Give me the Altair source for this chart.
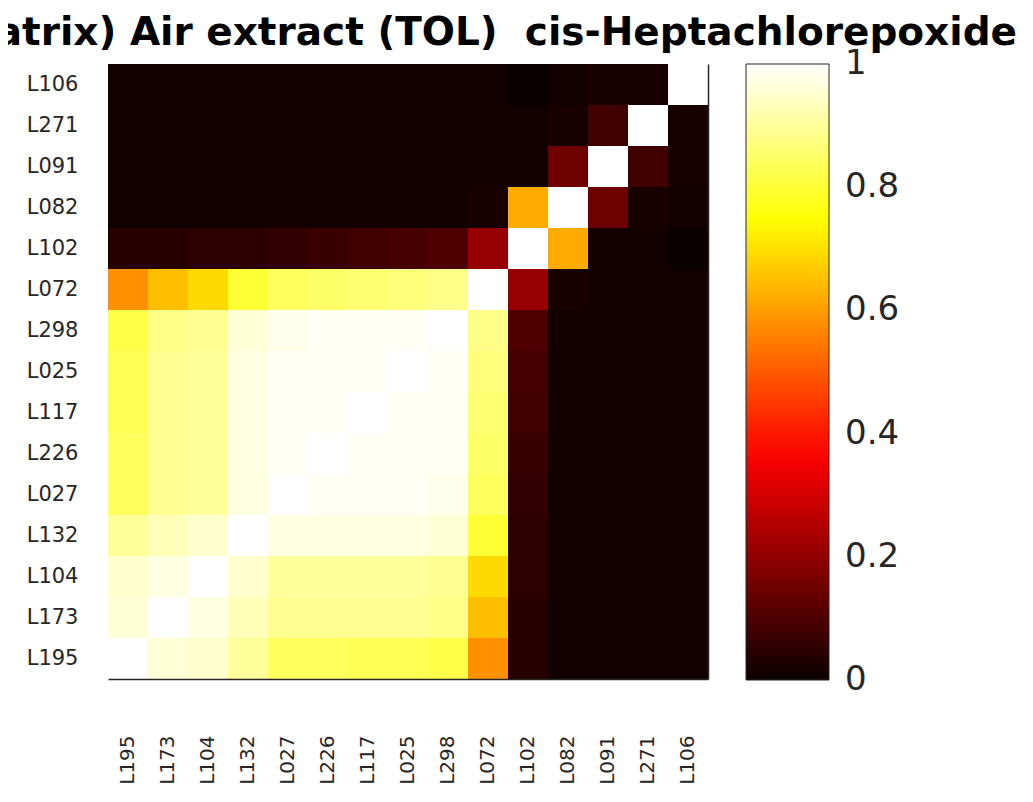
import altair as alt
import pandas as pd

# Sample labels (column order left->right; rows are shown bottom->top in this order)
labels = ["L195", "L173", "L104", "L132", "L027", "L226", "L117", "L025",
          "L298", "L072", "L102", "L082", "L091", "L271", "L106"]

# Correlation values, one list per row sample, values in the column order above
row_L195 = [1.00, 0.96, 0.95, 0.90, 0.84, 0.84, 0.83, 0.83, 0.82, 0.58, 0.04, 0.01, 0.01, 0.01, 0.01]
row_L173 = [0.96, 1.00, 0.97, 0.93, 0.89, 0.89, 0.89, 0.89, 0.88, 0.65, 0.04, 0.01, 0.01, 0.01, 0.01]
row_L104 = [0.95, 0.97, 1.00, 0.95, 0.90, 0.90, 0.90, 0.90, 0.89, 0.69, 0.05, 0.01, 0.01, 0.01, 0.01]
row_L132 = [0.90, 0.93, 0.95, 1.00, 0.97, 0.97, 0.97, 0.97, 0.96, 0.80, 0.05, 0.01, 0.01, 0.01, 0.01]
row_L027 = [0.84, 0.89, 0.90, 0.97, 1.00, 0.99, 0.99, 0.99, 0.98, 0.84, 0.06, 0.01, 0.01, 0.01, 0.01]
row_L226 = [0.84, 0.89, 0.90, 0.97, 0.99, 1.00, 0.99, 0.99, 0.99, 0.85, 0.07, 0.01, 0.01, 0.01, 0.01]
row_L117 = [0.83, 0.89, 0.90, 0.97, 0.99, 0.99, 1.00, 0.99, 0.99, 0.86, 0.08, 0.01, 0.01, 0.01, 0.01]
row_L025 = [0.83, 0.89, 0.90, 0.97, 0.99, 0.99, 0.99, 1.00, 0.99, 0.87, 0.09, 0.01, 0.01, 0.01, 0.01]
row_L298 = [0.82, 0.88, 0.89, 0.96, 0.98, 0.99, 0.99, 0.99, 1.00, 0.88, 0.10, 0.01, 0.01, 0.01, 0.01]
row_L072 = [0.58, 0.65, 0.69, 0.80, 0.84, 0.85, 0.86, 0.87, 0.88, 1.00, 0.21, 0.02, 0.01, 0.01, 0.01]
row_L102 = [0.04, 0.04, 0.05, 0.05, 0.06, 0.07, 0.08, 0.09, 0.10, 0.21, 1.00, 0.62, 0.01, 0.01, 0.00]
row_L082 = [0.01, 0.01, 0.01, 0.01, 0.01, 0.01, 0.01, 0.01, 0.01, 0.02, 0.62, 1.00, 0.15, 0.02, 0.01]
row_L091 = [0.01, 0.01, 0.01, 0.01, 0.01, 0.01, 0.01, 0.01, 0.01, 0.01, 0.01, 0.15, 1.00, 0.08, 0.02]
row_L271 = [0.01, 0.01, 0.01, 0.01, 0.01, 0.01, 0.01, 0.01, 0.01, 0.01, 0.01, 0.02, 0.08, 1.00, 0.02]
row_L106 = [0.01, 0.01, 0.01, 0.01, 0.01, 0.01, 0.01, 0.01, 0.01, 0.01, 0.00, 0.01, 0.02, 0.02, 1.00]

rows = [row_L195, row_L173, row_L104, row_L132, row_L027, row_L226, row_L117, row_L025,
        row_L298, row_L072, row_L102, row_L082, row_L091, row_L271, row_L106]

# colorbar tick positions (ends nudged inside so the labels centre on them)
colorbar_ticks = [0.0005, 0.2, 0.4, 0.6, 0.8, 0.9995]
title_text = "matrix) Air extract (TOL)\u00a0 cis-Heptachlorepoxide"

records = []
for rname, vals in zip(labels, rows):
    for cname, v in zip(labels, vals):
        records.append({"col": cname, "row": rname, "value": v})
df = pd.DataFrame(records)

FONT = "DejaVu Sans"
TXT = "#262626"

hot = alt.Scale(domain=[0, 0.365, 0.746, 1],
                range=["#0b0000", "#ff0000", "#ffff00", "#ffffff"],
                interpolate="rgb")

x_enc = alt.X("col:N", sort=labels, title=None,
              axis=alt.Axis(labelAngle=-90, labelFontSize=20, labelFont=FONT,
                            labelColor=TXT, ticks=False, labelPadding=56,
                            domain=True, domainColor=TXT, domainWidth=1.5))

heat = alt.Chart(df).mark_rect().encode(
    x=x_enc,
    y=alt.Y("row:N", sort=list(reversed(labels)), title=None,
            axis=alt.Axis(labelFontSize=21, labelFont=FONT, labelColor=TXT,
                          ticks=False, labelPadding=30, domain=False)),
    color=alt.Color("value:Q", scale=hot,
                    legend=alt.Legend(title=None, values=colorbar_ticks, format=".1~f",
                                      direction="vertical", orient="right",
                                      offset=38, padding=0,
                                      gradientLength=616, gradientThickness=83,
                                      gradientStrokeColor=TXT, gradientStrokeWidth=1,
                                      labelFontSize=34, labelFont=FONT, labelColor=TXT,
                                      labelOffset=16, labelBaseline="middle")),
)

border = alt.Chart(df).mark_rect(opacity=0).encode(
    x=x_enc,
    y=alt.Y("row:N", sort=list(reversed(labels)), title=None,
            axis=alt.Axis(orient="right", labels=False, ticks=False, domain=True,
                          domainColor=TXT, domainWidth=1.5)),
)

chart = alt.layer(heat, border).resolve_axis(y="independent").properties(
    width=600, height=615,
    title=alt.TitleParams(title_text, anchor="end", dx=117, offset=11,
                          font=FONT, fontSize=39, fontWeight="bold", color="black"),
    autosize=alt.AutoSizeParams(type="none"),
    padding={"left": 100, "top": 56, "right": 315, "bottom": 108},
    background="white",
).configure_view(stroke="transparent")

chart.save("out.html", embed_options={"renderer": "svg", "actions": False})
